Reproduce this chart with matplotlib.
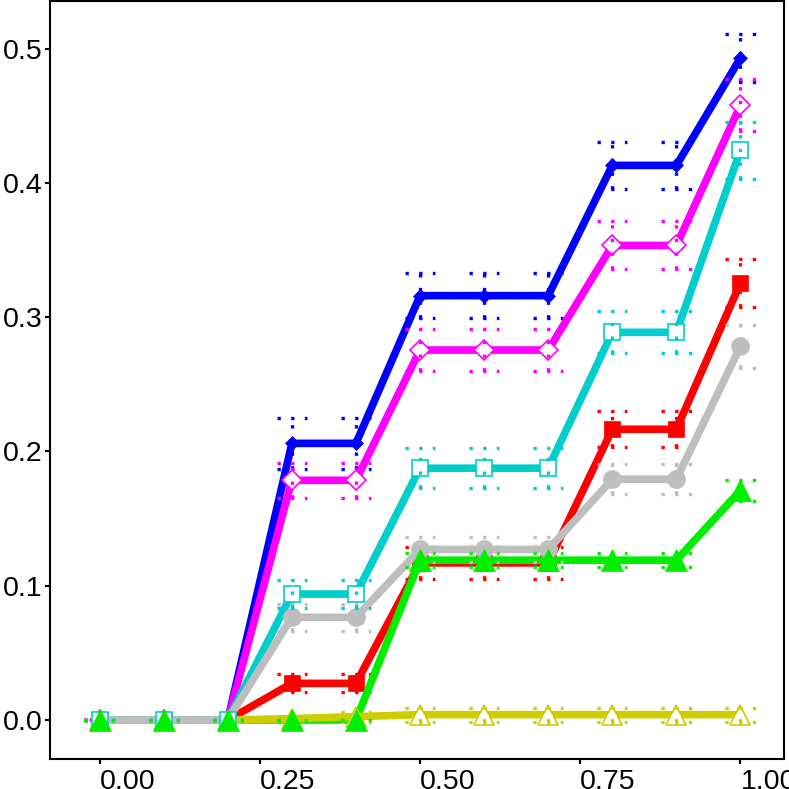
import matplotlib
matplotlib.use('Agg')
import matplotlib.pyplot as plt

# ---------------- data ----------------
x = [0.0, 0.1, 0.2, 0.3, 0.4, 0.5, 0.6, 0.7, 0.8, 0.9, 1.0]

blue_y = [0, 0, 0, 0.206, 0.206, 0.316, 0.316, 0.316, 0.413, 0.413, 0.493]
blue_e = [0, 0, 0, 0.019, 0.019, 0.017, 0.017, 0.017, 0.0177, 0.0177, 0.0177]

magenta_y = [0, 0, 0, 0.1785, 0.1785, 0.2755, 0.2755, 0.2755, 0.3534, 0.3534, 0.4578]
magenta_e = [0, 0, 0, 0.0131, 0.0131, 0.0159, 0.0159, 0.0159, 0.0179, 0.0179, 0.0193]

cyan_y = [0, 0, 0, 0.0938, 0.0938, 0.1875, 0.1875, 0.1875, 0.2887, 0.2887, 0.4243]
cyan_e = [0, 0, 0, 0.0105, 0.0105, 0.0149, 0.0149, 0.0149, 0.0156, 0.0156, 0.0213]

red_y = [0, 0, 0, 0.0273, 0.0273, 0.117, 0.117, 0.117, 0.2165, 0.2165, 0.3254]
red_e = [0, 0, 0, 0.0067, 0.0067, 0.0118, 0.0118, 0.0118, 0.0134, 0.0134, 0.018]

gray_y = [0, 0, 0, 0.0765, 0.0765, 0.127, 0.127, 0.127, 0.1793, 0.1793, 0.2783]
gray_e = [0, 0, 0, 0.0102, 0.0102, 0.009, 0.009, 0.009, 0.011, 0.011, 0.0161]

green_y = [0, 0, 0, 0, 0, 0.119, 0.119, 0.119, 0.119, 0.119, 0.171]
green_e = [0, 0, 0, 0, 0, 0.005, 0.005, 0.005, 0.005, 0.005, 0.008]

yellow_y = [0, 0, 0, 0.001, 0.0025, 0.004, 0.004, 0.004, 0.004, 0.004, 0.004]
yellow_e = [0, 0, 0, 0.001, 0.0037, 0.0052, 0.0052, 0.0052, 0.0052, 0.0052, 0.0052]

x_ticks = [0.0, 0.25, 0.5, 0.75, 1.0]
x_ticklabels = ["0.00", "0.25", "0.50", "0.75", "1.00"]
y_ticks = [0.0, 0.1, 0.2, 0.3, 0.4, 0.5]
y_ticklabels = ["0.0", "0.1", "0.2", "0.3", "0.4", "0.5"]

plt.rcParams['font.family'] = ['Liberation Sans', 'DejaVu Sans']

fig = plt.figure(figsize=(7.89, 7.89), dpi=100)
ax = fig.add_axes([50 / 789, (789 - 758.7) / 789, 734 / 789, 757.7 / 789])

series = [
    # y, err, color, marker, ms, filled, line zorder, marker zorder
    (blue_y, blue_e, '#0000FF', 'D', 7.6, True, 10, 11),
    (magenta_y, magenta_e, '#FF00FF', 'D', 10.0, False, 20, 21),
    (red_y, red_e, '#FF0000', 's', 12.0, True, 30, 31),
    (green_y, green_e, '#00EE00', '^', 16.5, True, 35, 71),
    (yellow_y, yellow_e, '#CDCD00', '^', 15.0, False, 40, 41),
    (cyan_y, cyan_e, '#00CDCD', 's', 11.0, False, 45, 61),
    (gray_y, gray_e, '#BEBEBE', 'o', 13.0, True, 50, 51),
]

hw = 0.0236
dots = (0, (1, 3.1))
for ys, es, col, mk, ms, filled, zl, zm in series:
    ax.plot(x, ys, color=col, lw=5.5, solid_capstyle='butt', zorder=zl)
    if filled:
        ax.plot(x, ys, ls='none', marker=mk, ms=ms, mfc=col, mec=col, mew=0.5,
                zorder=zm)
    else:
        ax.plot(x, ys, ls='none', marker=mk, ms=ms, mfc='white', mec=col, mew=1.2,
                zorder=zm)
    for xi, yi, ei in zip(x, ys, es):
        for yc in (yi - ei, yi + ei):
            ax.plot([xi - hw, xi + hw], [yc, yc], color=col, lw=2.4, ls=dots,
                    dash_capstyle='butt', zorder=zm + 0.5)
        if ei > 0:
            ax.plot([xi, xi], [yi - ei, yi + ei], color=col, lw=2.4, ls=dots,
                    dash_capstyle='butt', zorder=zm + 0.5)

ax.set_xlim(-0.0774, 1.0679)
ax.set_ylim(-0.0288, 0.5354)

ax.set_xticks(x_ticks)
ax.set_xticklabels(x_ticklabels)
ax.set_yticks(y_ticks)
ax.set_yticklabels(y_ticklabels)
for lab in ax.get_xticklabels():
    lab.set_ha('left')

ax.tick_params(axis='both', direction='out', length=3.6, width=1.5,
               labelsize=20.5, colors='black')
ax.tick_params(axis='x', pad=3.5)
ax.tick_params(axis='y', pad=1.5)
for sp in ax.spines.values():
    sp.set_linewidth(1.5)
    sp.set_color('black')

fig.savefig('out.png', dpi=100)
